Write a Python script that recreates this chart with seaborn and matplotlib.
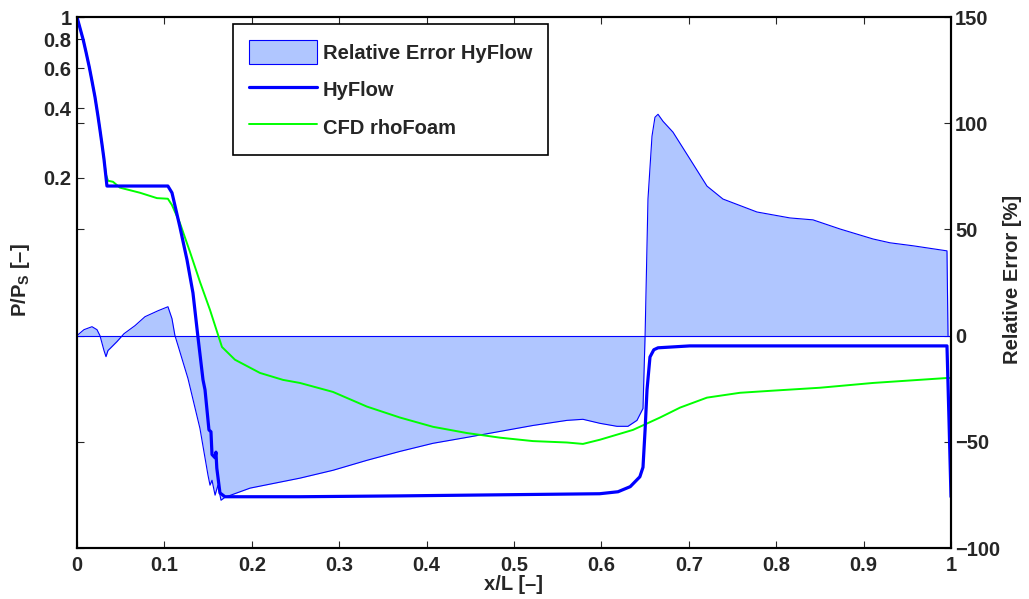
import numpy as np
import pandas as pd
import matplotlib
matplotlib.use("Agg")
import matplotlib.pyplot as plt
import seaborn as sns
from matplotlib.patches import Patch
from matplotlib.lines import Line2D

# ---------------- data ----------------
hy_x = [0.0, 0.00343, 0.00721, 0.0103, 0.01407, 0.01716, 0.0206, 0.0240, 0.0263, 0.0286,
        0.0309, 0.0343, 0.104, 0.1087, 0.1178,
        0.1259, 0.1327, 0.1384, 0.1442, 0.1465, 0.151, 0.1533, 0.1545, 0.158, 0.159,
        0.160, 0.1636, 0.1693, 0.255, 0.3696, 0.484, 0.598, 0.619, 0.633, 0.644,
        0.6476, 0.650, 0.6522, 0.6556, 0.660, 0.6648, 0.701, 0.9954, 0.9977, 1.0]
hy_p = [1.0, 0.896, 0.794, 0.705, 0.606, 0.527, 0.449, 0.371, 0.323, 0.280,
        0.241, 0.184, 0.184, 0.172, 0.122,
        0.0878, 0.0631, 0.0406, 0.0264, 0.0239, 0.0160, 0.0157, 0.0125, 0.0121, 0.0128,
        0.0109, 0.00851, 0.00819, 0.00819, 0.00826, 0.00835, 0.00844, 0.00861, 0.00906, 0.0100,
        0.0110, 0.0160, 0.0239, 0.0332, 0.0357, 0.0364, 0.0371, 0.0371, 0.0177, 0.00819]

cfd_x = [0.0, 0.00343, 0.00721, 0.0103, 0.01407, 0.01716, 0.0206, 0.0240, 0.0263, 0.0286,
         0.0309, 0.0332, 0.0355, 0.0412, 0.0492,
         0.0721, 0.0915, 0.104, 0.1087, 0.1178, 0.1293, 0.1407, 0.1522, 0.1659, 0.1808,
         0.2094, 0.2357, 0.2551, 0.2929, 0.3318, 0.3696, 0.4073, 0.4462, 0.484, 0.5217,
         0.5606, 0.5789, 0.5984, 0.6362, 0.667, 0.690, 0.7208, 0.7586, 0.7963, 0.850,
         0.9108, 0.9954, 1.0]
cfd_p = [1.0, 0.896, 0.794, 0.705, 0.606, 0.527, 0.449, 0.371, 0.323, 0.280,
         0.241, 0.206, 0.194, 0.192, 0.181,
         0.172, 0.163, 0.162, 0.152, 0.127, 0.0951, 0.0705, 0.0532, 0.0367, 0.0323,
         0.0283, 0.0264, 0.0256, 0.0234, 0.0202, 0.0181, 0.0165, 0.0155, 0.0148, 0.0143,
         0.0141, 0.0139, 0.0145, 0.0160, 0.0181, 0.0200, 0.0221, 0.0232, 0.0237, 0.0244,
         0.0256, 0.0269, 0.0269]

err_x = [0.0, 0.008, 0.0172, 0.0229, 0.0263, 0.0309, 0.0332, 0.0355, 0.0378, 0.0458,
         0.0538, 0.0664, 0.0778, 0.0927, 0.1041, 0.1087, 0.1121, 0.1156, 0.127, 0.1407,
         0.1499, 0.1522, 0.1545, 0.158, 0.1613, 0.1648, 0.1693, 0.198, 0.2551, 0.2929,
         0.3318, 0.3696, 0.4073, 0.4462, 0.484, 0.5217, 0.5606, 0.5789, 0.5984, 0.6178,
         0.6304, 0.6407, 0.6476, 0.650, 0.6533, 0.6579, 0.6613, 0.6648, 0.6705, 0.6819,
         0.7014, 0.7208, 0.7391, 0.778, 0.8158, 0.8421, 0.873, 0.9108, 0.9302, 0.9565,
         0.9954, 0.9966]
err_v = [0.0, 2.8, 4.2, 2.8, 0.0, -7.0, -9.9, -7.0, -6.1, -2.8,
         0.9, 4.7, 8.9, 11.7, 13.6, 8.0, 0.0, -4.7, -20.2, -43.7,
         -65.7, -70.4, -68.1, -75.1, -70.4, -77.5, -76.1, -71.8, -67.1, -63.4,
         -58.7, -54.5, -50.7, -47.9, -45.1, -42.3, -39.9, -39.4, -41.3, -42.7,
         -42.7, -39.9, -34.3, 0.0, 64.3, 93.9, 102.8, 104.2, 100.9, 95.8,
         83.1, 70.4, 64.3, 58.2, 55.4, 54.5, 50.2, 45.5, 43.7, 42.3,
         39.9, 0.0]

x_ticks = [0, 0.1, 0.2, 0.3, 0.4, 0.5, 0.6, 0.7, 0.8, 0.9, 1]
x_ticklabels = ["0", "0.1", "0.2", "0.3", "0.4", "0.5", "0.6", "0.7", "0.8", "0.9", "1"]
p_ticks = [0.2, 0.4, 0.6, 0.8, 1]
p_ticklabels = ["0.2", "0.4", "0.6", "0.8", "1"]
e_ticks = [-100, -50, 0, 50, 100, 150]
e_ticklabels = ["\u2212100", "\u221250", "0", "50", "100", "150"]

# ---------------- style ----------------
sns.set_style("ticks")
plt.rcParams["font.family"] = ["Liberation Sans", "DejaVu Sans"]
plt.rcParams["font.weight"] = "bold"
plt.rcParams["mathtext.fontset"] = "custom"
plt.rcParams["mathtext.rm"] = "Liberation Sans:bold"
plt.rcParams["mathtext.it"] = "Liberation Sans:bold"
plt.rcParams["mathtext.bf"] = "Liberation Sans:bold"

FS = 14.5
fill_col = "#B0C6FF"
blue = "#0000FF"
green = "#00FF00"

fig = plt.figure(figsize=(10.29, 5.99), dpi=100)
ax = fig.add_axes([0.0748, 0.0851, 0.8494, 0.8865])
ax2 = ax.twinx()

# error area on right axis
ax2.fill_between(err_x, err_v, 0, color=fill_col, linewidth=0, zorder=1)
ax2.plot(err_x, err_v, color=blue, linewidth=0.8, zorder=2)
ax2.axhline(0, color=blue, linewidth=0.8, zorder=2)
ax2.set_ylim(-100, 150)
ax2.set_yticks(e_ticks)
ax2.set_yticklabels(e_ticklabels)

# lines on left (log) axis, drawn above
ax.set_zorder(ax2.get_zorder() + 1)
ax.patch.set_visible(False)
df_hy = pd.DataFrame({"x": hy_x, "p": hy_p})
df_cfd = pd.DataFrame({"x": cfd_x, "p": cfd_p})
sns.lineplot(data=df_cfd, x="x", y="p", ax=ax, color=green, linewidth=1.4,
             estimator=None, sort=False)
sns.lineplot(data=df_hy, x="x", y="p", ax=ax, color=blue, linewidth=2.3,
             estimator=None, sort=False)
ax.set_yscale("log")
ax.set_ylim(0.0049, 1.0)
ax.set_xlim(0, 1)
ax.set_yticks(p_ticks)
ax.set_yticklabels(p_ticklabels)
ax.yaxis.set_minor_locator(matplotlib.ticker.NullLocator())
ax.set_xticks(x_ticks)
ax.set_xticklabels(x_ticklabels)

for a in (ax, ax2):
    for s in a.spines.values():
        s.set_linewidth(1.5)
        s.set_color("black")
        s.set_visible(True)

ax.tick_params(axis="both", direction="in", length=5, width=0.8, labelsize=FS,
               top=True, right=False, pad=4)
ax.tick_params(axis="x", pad=6)
ax2.tick_params(axis="y", direction="in", length=5, width=0.8, labelsize=FS,
                left=True, right=True, labelleft=False, labelright=True, pad=3)
for lab in ax.get_xticklabels() + ax.get_yticklabels() + ax2.get_yticklabels():
    lab.set_fontweight("bold")

ax.set_xlabel("x/L [\u2013]", fontsize=FS, fontweight="bold")
ax.set_ylabel("P/P$_{\\mathrm{S}}$ [\u2013]", fontsize=FS, fontweight="bold")
ax2.set_ylabel("Relative Error [%]", fontsize=FS, fontweight="bold")
ax.xaxis.set_label_coords(0.5, -0.051)
ax.yaxis.set_label_coords(-0.052, 0.505)
ax2.yaxis.set_label_coords(1.06, 0.505)

handles = [Patch(facecolor=fill_col, edgecolor=blue, linewidth=0.8),
           Line2D([], [], color=blue, linewidth=2.3),
           Line2D([], [], color=green, linewidth=1.4)]
labels = ["Relative Error HyFlow", "HyFlow", "CFD rhoFoam"]
leg = ax.legend(handles, labels, loc="upper left", bbox_to_anchor=(0.1785, 0.9868),
                borderaxespad=0, prop={"weight": "bold", "size": FS},
                frameon=True, fancybox=False, edgecolor="black", framealpha=1,
                handlelength=3.35, handleheight=1.45, handletextpad=0.3,
                labelspacing=0.67, borderpad=0.8)
leg.get_frame().set_linewidth(1.2)

fig.savefig("out.png", dpi=100)
